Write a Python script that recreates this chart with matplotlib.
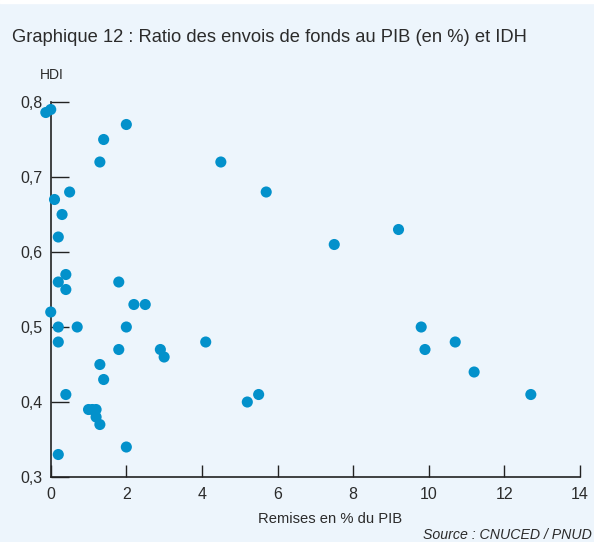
import matplotlib
matplotlib.use('Agg')
import matplotlib.pyplot as plt
from matplotlib.patches import Rectangle

# remittances as % of GDP and HDI
remises = [-0.13, 0.0, 2.0, 1.4, 1.3, 4.5, 5.7, 0.5, 0.1, 0.3, 0.2, 7.5, 9.2,
           0.4, 0.2, 1.8, 0.4, 2.2, 2.5, 0.0, 0.2, 0.7, 2.0, 0.2, 4.1,
           1.8, 2.9, 3.0, 1.3, 1.4, 0.4, 1.0, 1.1, 1.2, 1.2, 1.3, 2.0, 0.2,
           5.2, 5.5, 9.8, 9.9, 10.7, 11.2, 12.7]
idh = [0.786, 0.79, 0.77, 0.75, 0.72, 0.72, 0.68, 0.68, 0.67, 0.65, 0.62, 0.61, 0.63,
       0.57, 0.56, 0.56, 0.55, 0.53, 0.53, 0.52, 0.50, 0.50, 0.50, 0.48, 0.48,
       0.47, 0.47, 0.46, 0.45, 0.43, 0.41, 0.39, 0.39, 0.39, 0.38, 0.37, 0.34, 0.33,
       0.40, 0.41, 0.50, 0.47, 0.48, 0.44, 0.41]

xticks = [0, 2, 4, 6, 8, 10, 12, 14]
yticks = [0.3, 0.4, 0.5, 0.6, 0.7, 0.8]
ylabels = ['0,3', '0,4', '0,5', '0,6', '0,7', '0,8']

bg = '#edf5fc'
txt = '#2b2b2b'
plt.rcParams['font.family'] = ['Liberation Sans', 'DejaVu Sans']

fig = plt.figure(figsize=(5.94, 5.42), dpi=100, facecolor=bg)
fig.patches.append(Rectangle((0, 1 - 3 / 542), 1, 3 / 542, transform=fig.transFigure,
                             color='white', zorder=0))
ax = fig.add_axes([0.0854, 0.1199, 0.891, 0.6919])
ax.set_facecolor(bg)

ax.scatter(remises, idh, s=64, color='#0391cb', edgecolors='none', clip_on=False, zorder=3)

ax.set_xlim(0, 14)
ax.set_ylim(0.3, 0.8)
ax.set_xticks(xticks)
ax.set_yticks(yticks)
ax.set_yticklabels(ylabels)
for s in ['top', 'right']:
    ax.spines[s].set_visible(False)
for s in ['left', 'bottom']:
    ax.spines[s].set_color('#222222')
    ax.spines[s].set_linewidth(1.2)
ax.tick_params(axis='y', direction='in', length=13, width=1, color='#222222',
               labelsize=11.5, labelcolor=txt, pad=6)
ax.tick_params(axis='x', direction='in', length=9, width=1, color='#222222',
               labelsize=11.5, labelcolor=txt, pad=7)

fig.text(12 / 594, 1 - 37 / 542, 'Graphique 12 : Ratio des envois de fonds au PIB (en %) et IDH',
         fontsize=13.2, color=txt, va='center', ha='left')
fig.text(40 / 594, 1 - 75 / 542, 'HDI', fontsize=10, color=txt, va='center', ha='left')
# x label sits a little right of the axis centre in the original
fig.text(330 / 594, 1 - 519 / 542, 'Remises en % du PIB', fontsize=10.6, color=txt,
         va='center', ha='center')
fig.text(592 / 594, 1 - 535 / 542, 'Source : CNUCED / PNUD', fontsize=10.2, style='italic',
         color=txt, va='center', ha='right')

fig.savefig('out.png', dpi=100, facecolor=bg)
